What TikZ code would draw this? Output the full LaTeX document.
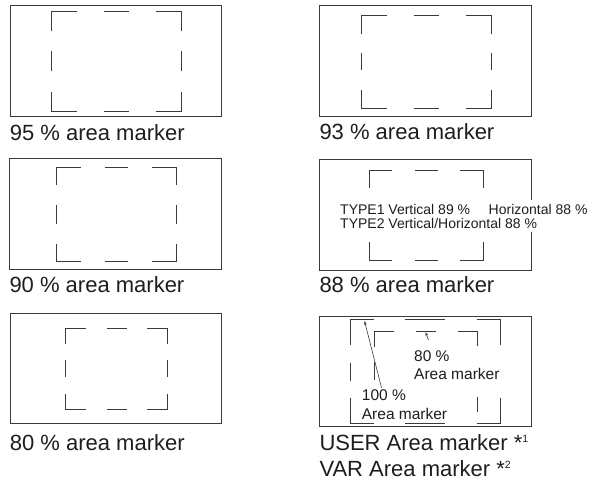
\documentclass[tikz,border=0pt]{standalone}
\usepackage{fontspec}
\setmainfont{Liberation Sans}
\usepackage{xcolor}
\usepackage{tikz}
\usetikzlibrary{arrows.meta, positioning}

\definecolor{inkgray}{HTML}{3A3A3A}
\definecolor{textgray}{HTML}{1E1E1E}

% left, top, right, bottom, corner h, middle h/2, corner v, middle v/2
\newcommand{\areamarker}[8]{%
  \draw[marker]
    ({#1+#5},#2) -- (#1,#2) -- (#1,{#2+#7})
    ({#3-#5},#2) -- (#3,#2) -- (#3,{#2+#7})
    ({#1+#5},#4) -- (#1,#4) -- (#1,{#4-#7})
    ({#3-#5},#4) -- (#3,#4) -- (#3,{#4-#7})
    ({(#1+#3)/2-#6},#2) -- ({(#1+#3)/2+#6},#2)
    ({(#1+#3)/2-#6},#4) -- ({(#1+#3)/2+#6},#4)
    (#1,{(#2+#4)/2-#8}) -- (#1,{(#2+#4)/2+#8})
    (#3,{(#2+#4)/2-#8}) -- (#3,{(#2+#4)/2+#8});
}

\begin{document}
\begin{tikzpicture}[
      x=1pt, y=-1pt,
      every node/.style={text=textgray},
      panel/.style={draw=inkgray, line width=0.9pt, inner sep=0pt,
        minimum width=211.5pt, minimum height=110.7pt},
      marker/.style={draw=inkgray, line width=0.9pt},
      caption/.style={anchor=base west, inner sep=0pt,
        font=\fontsize{22}{26}\selectfont},
      note/.style={anchor=north west, align=left, fill=white,
        inner xsep=1pt, inner ysep=4pt, font=\fontsize{14}{14.3}\selectfont},
      tag/.style={anchor=north west, align=left, fill=white,
        inner sep=1.5pt, font=\fontsize{15.5}{18.3}\selectfont},
      pointer/.style={draw=inkgray, line width=0.6pt,
        -{Stealth[length=4pt, width=2.6pt]}},
    ]
    \useasboundingbox (0,0) rectangle (596,483);

    % panels
    \node[panel] (p95) at (115.85,60.85) {};
    \node[panel] (p93) at (425.5,61.2) {};
    \node[panel] (p90) at (115.5,214) {};
    \node[panel] (p88) at (425.5,214.65) {};
    \node[panel] (p80) at (115.85,368.35) {};
    \node[panel] (puser) at (425.5,371.5) {};

    % area markers
    \areamarker{51.7}{11.7}{181}{111}{25.5}{12.3}{19}{10}
    \areamarker{361.7}{15}{491}{108.3}{25.5}{12.5}{18.5}{8.7}
    \areamarker{56.7}{167.3}{176}{261.7}{24}{11.7}{18}{9.2}
    \areamarker{369.3}{170}{483.3}{260}{23}{11.3}{17.8}{9}
    \areamarker{65.7}{328.3}{167.7}{409}{20.3}{10}{15.3}{8.3}
    \areamarker{350}{319.3}{500.7}{423.7}{24}{20}{25.7}{9}
    % inner 80 % marker of the USER panel (no bottom line)
    \draw[marker] (394,331) -- (374,331) -- (374,347)
      (416,331) -- (436,331)
      (457.5,331) -- (477.5,331) -- (477.5,346)
      (374,362) -- (374,380)
      (477.5,362) -- (477.5,380)
      (374,397) -- (374,412)
      (477.5,397) -- (477.5,412);

    % captions
    \node[below=23.5pt of p95.south west, caption] (l95) {95 \% area marker};
    \node[below=22.8pt of p93.south west, caption] (l93) {93 \% area marker};
    \node[below=22.7pt of p90.south west, caption] (l90) {90 \% area marker};
    \node[below=21.7pt of p88.south west, caption] (l88) {88 \% area marker};
    \node[below=26pt of p80.south west, caption] (l80) {80 \% area marker};
    \node[below=22.7pt of puser.south west, caption] (luser)
      {USER Area marker *\raisebox{8pt}{\fontsize{10.5}{12}\selectfont 1}};
    \node[below=26.7pt of luser.base west, caption] (lvar)
      {VAR Area marker *\raisebox{8pt}{\fontsize{10.5}{12}\selectfont 2}};

    % texts inside the panels
    \node[note] (t88) at (339,199.7)
      {TYPE1 Vertical 89 \%\hspace{18.6pt}Horizontal 88 \%\\
       TYPE2 Vertical/Horizontal 88 \%};
    \node[tag] (n80) at (412.5,349) {80 \%\\Area marker};
    \node[tag] (n100) at (360.2,388.2) {100 \%\\Area marker};

    \coordinate (tip80) at (425.5,332);
    \coordinate (tip100) at (364.5,321);
    \draw[pointer] ([xshift=16pt, yshift=9pt]n80.north west) -- (tip80);
    \draw[pointer] ([xshift=21.3pt, yshift=0.5pt]n100.north west) -- (tip100);

  \end{tikzpicture}
\end{document}
